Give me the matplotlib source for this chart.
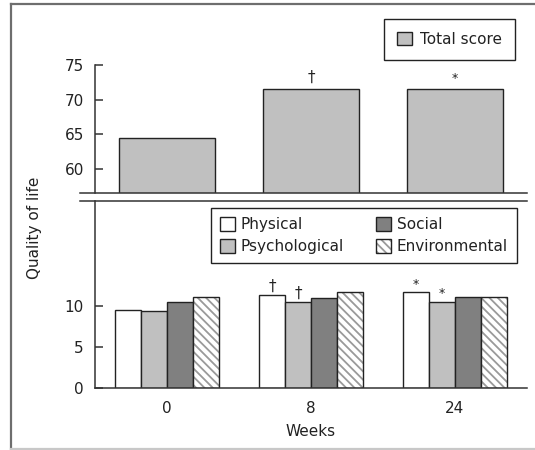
import matplotlib
matplotlib.use("Agg")
import matplotlib.pyplot as plt
from matplotlib.patches import Patch
from matplotlib.lines import Line2D
from matplotlib.colors import to_rgba
import numpy as np

plt.rcParams['font.family'] = ['DejaVu Sans']
plt.rcParams['hatch.linewidth'] = 1.3

weeks = ['0', '8', '24']
total_score = [64.5, 71.5, 71.5]
total_marks = ['', '†', '*']

domains = ['Physical', 'Psychological', 'Social', 'Environmental']
physical = [9.5, 11.3, 11.6]
psychological = [9.3, 10.4, 10.5]
social = [10.5, 10.9, 11.1]
environmental = [11.0, 11.6, 11.0]
physical_marks = ['', '†', '*']
psychological_marks = ['', '†', '*']

W, H = 535, 450
fig = plt.figure(figsize=(W / 100, H / 100), dpi=100)

def box(x0, y0, x1, y1):
    # pixel box (top-left origin) -> figure fraction rect
    return [x0 / W, 1 - y1 / H, (x1 - x0) / W, (y1 - y0) / H]

ax_top = fig.add_axes(box(95, 65, 527, 193.3))
ax_bot = fig.add_axes(box(95, 200.7, 527, 388.3))

ink = '#333333'
txt = '#222222'
hatch_col = to_rgba('#9a9a9a')
fs = 11

x = np.arange(len(weeks))

# upper panel: total score
ax_top.bar(x, total_score, width=0.667, color='#c0c0c0', edgecolor='#222222',
           linewidth=1.0, zorder=2)
for xi, v, m in zip(x, total_score, total_marks):
    if m:
        ax_top.annotate(m, (xi, v), xytext=(0, 3), textcoords='offset points',
                        ha='center', va='bottom', fontsize=fs if m == '†' else 9,
                        color=txt)
ax_top.set_xlim(-0.5, 2.5)
ax_top.set_ylim(56.45, 75)
ax_top.set_yticks([60, 65, 70, 75])

# lower panel: domain scores
bw = 0.18
styles = [
    dict(color='white', hatch=None),
    dict(color='#c0c0c0', hatch=None),
    dict(color='#808080', hatch=None),
    dict(color='white', hatch='\\\\\\\\'),
]
series = [physical, psychological, social, environmental]
for i, (vals, st) in enumerate(zip(series, styles)):
    pos = x + (i - 1.5) * bw
    bars = ax_bot.bar(pos, vals, width=bw, color=st['color'], hatch=st['hatch'],
                      edgecolor='#222222', linewidth=1.0, zorder=2)
    if st['hatch']:
        for b in bars:
            b._hatch_color = hatch_col
            b.stale = True
for i, (vals, marks) in enumerate([(physical, physical_marks),
                                   (psychological, psychological_marks)]):
    pos = x + (i - 1.5) * bw
    for p, v, m in zip(pos, vals, marks):
        if m:
            ax_bot.annotate(m, (p, v), xytext=(0, 1), textcoords='offset points',
                            ha='center', va='bottom',
                            fontsize=fs if m == '†' else 9, color=txt)
ax_bot.set_xlim(-0.5, 2.5)
ax_bot.set_ylim(0, 22.7)
ax_bot.set_yticks([0, 5, 10])
ax_bot.set_xticks(x)
ax_bot.set_xticklabels(weeks)
ax_bot.set_xlabel('Weeks', fontsize=fs, color=txt, labelpad=6)

for ax in (ax_top, ax_bot):
    for s in ('top', 'right', 'bottom'):
        ax.spines[s].set_visible(False)
    ax.spines['left'].set_color(ink)
    ax.spines['left'].set_linewidth(1.1)
    ax.tick_params(axis='y', direction='in', length=6, width=1.1, color=ink,
                   labelsize=fs, labelcolor=txt, pad=8)
    ax.patch.set_alpha(0)

ax_top.tick_params(axis='x', bottom=False, labelbottom=False)
ax_bot.tick_params(axis='x', length=0, labelsize=fs, labelcolor=txt, pad=9)

# axis lines with the break gap between the panels
ext = -15 / 432
ax_top.plot([ext, 1], [0, 0], transform=ax_top.transAxes, color=ink, lw=1.1,
            clip_on=False, zorder=3)
ax_bot.plot([ext, 1], [1, 1], transform=ax_bot.transAxes, color=ink, lw=1.1,
            clip_on=False, zorder=3)
ax_bot.plot([0, 1], [0, 0], transform=ax_bot.transAxes, color=ink, lw=1.1,
            clip_on=False, zorder=3)

fig.text(35 / W, 1 - 228 / H, 'Quality of life', rotation=90, ha='center',
         va='center', fontsize=fs, color=txt)

leg_kw = dict(fontsize=fs, frameon=True, fancybox=False, framealpha=1,
              edgecolor='#222222', handlelength=1.0, handleheight=1.0,
              labelcolor=txt, borderaxespad=0)

h_total = [Patch(facecolor='#c0c0c0', edgecolor='#222222', label='Total score')]
lg1 = fig.legend(handles=h_total, loc='upper right',
                 bbox_to_anchor=(515 / W, 1 - 18.8 / H), borderpad=0.85,
                 handletextpad=0.5, **leg_kw)
lg1.get_frame().set_linewidth(1.0)

h_dom = []
for d, st in zip(domains, styles):
    p = Patch(facecolor=st['color'], edgecolor='#222222', hatch=st['hatch'],
              label=d)
    if st['hatch']:
        p._hatch_color = hatch_col
    h_dom.append(p)
lg2 = fig.legend(handles=h_dom, loc='upper right', ncol=2,
                 bbox_to_anchor=(517 / W, 1 - 208 / H), borderpad=0.6,
                 labelspacing=0.45, columnspacing=2.1, handletextpad=0.35,
                 **leg_kw)
lg2.get_frame().set_linewidth(1.0)

# outer frame
fig.add_artist(Line2D([10.5 / W, 10.5 / W], [1 - 3.5 / H, 1 - 449 / H],
                      color='#6e6e6e', lw=1.6))
fig.add_artist(Line2D([10.5 / W, 1], [1 - 3.5 / H, 1 - 3.5 / H],
                      color='#6e6e6e', lw=1.6))
fig.add_artist(Line2D([10.5 / W, 1], [1 - 449 / H, 1 - 449 / H],
                      color='#c8c8c8', lw=1.6))

fig.savefig('out.png', dpi=100)
